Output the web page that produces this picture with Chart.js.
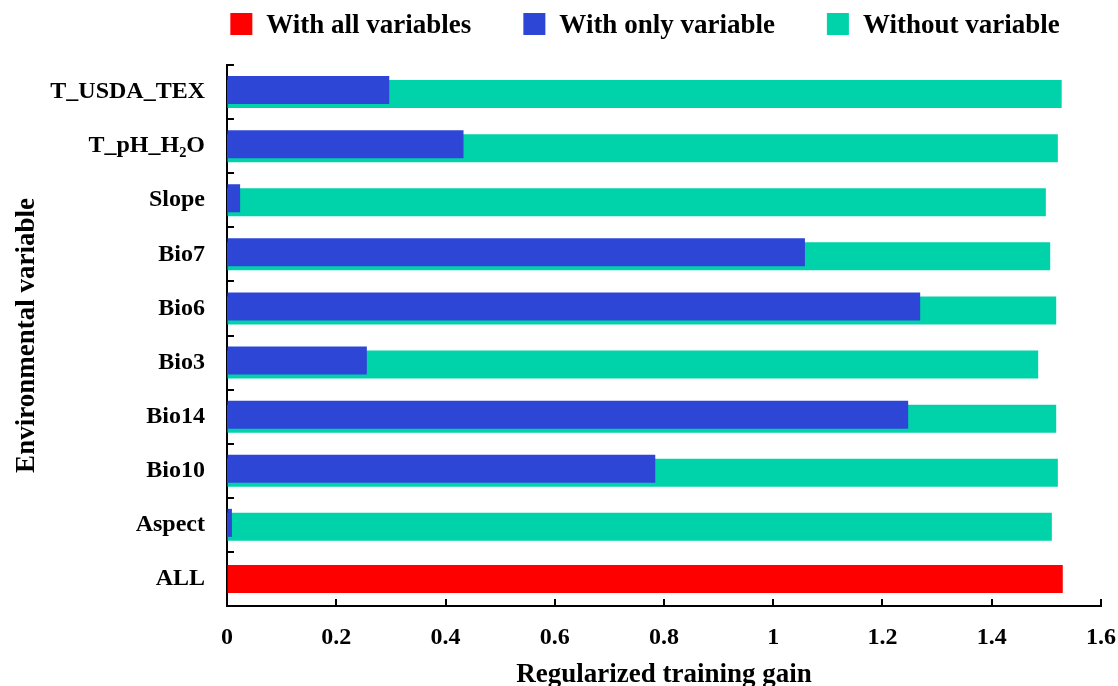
<!DOCTYPE html>
<html>
<head>
<meta charset="utf-8">
<script src="https://cdn.jsdelivr.net/npm/chart.js@4"></script>
<style>
  html, body { margin: 0; padding: 0; background: #fff; }
  canvas { display: block; }
</style>
</head>
<body>
<canvas id="c" width="1118" height="686"></canvas>
<script>
const categories = ['T_USDA_TEX', 'T_pH_H\u2082O', 'Slope', 'Bio7', 'Bio6', 'Bio3', 'Bio14', 'Bio10', 'Aspect', 'ALL'];
const withAllVariables = [null, null, null, null, null, null, null, null, null, 1.530];
const withOnlyVariable = [0.297, 0.433, 0.024, 1.058, 1.269, 0.256, 1.247, 0.784, 0.009, null];
const withoutVariable = [1.528, 1.521, 1.499, 1.507, 1.518, 1.485, 1.518, 1.521, 1.510, null];
const xTickValues = [0, 0.2, 0.4, 0.6, 0.8, 1.0, 1.2, 1.4, 1.6];
const xTickLabels = ['0', '0.2', '0.4', '0.6', '0.8', '1', '1.2', '1.4', '1.6'];

const FONT = "'Liberation Serif', 'Times New Roman', serif";
const RED = '#FF0000', BLUE = '#2E46D6', GREEN = '#00D3AA';

const legendPlugin = {
  id: 'customLegend',
  afterDraw(chart) {
    const ctx = chart.ctx;
    const ca = chart.chartArea;
    ctx.save();
    ctx.font = 'bold 27px ' + FONT;
    const box = 22, gapText = 14, gapItem = 52;
    const items = chart.data.datasets.map(d => ({ text: d.label, color: d.backgroundColor, w: ctx.measureText(d.label).width }));
    let total = 0;
    items.forEach((it, i) => { total += box + gapText + it.w + (i ? gapItem : 0); });
    let x = (ca.left + ca.right) / 2 - 19 - total / 2;
    items.forEach(it => {
      ctx.fillStyle = it.color;
      ctx.fillRect(x, 13, box, 22);
      ctx.fillStyle = '#000';
      ctx.textBaseline = 'alphabetic';
      ctx.textAlign = 'left';
      ctx.fillText(it.text, x + box + gapText, 33);
      x += box + gapText + it.w + gapItem;
    });
    ctx.restore();
  }
};

const ticksPlugin = {
  id: 'inwardTicks',
  afterDraw(chart) {
    const ctx = chart.ctx;
    const xs = chart.scales.x, ys = chart.scales.y;
    const ca = chart.chartArea;
    ctx.save();
    ctx.strokeStyle = '#000';
    ctx.lineWidth = 2;
    ctx.beginPath();
    xs.ticks.forEach((t, i) => {
      if (i === 0) return;
      const px = Math.round(xs.getPixelForTick(i));
      ctx.moveTo(px, ca.bottom);
      ctx.lineTo(px, ca.bottom - 7);
    });
    const half = (ys.getPixelForValue(1) - ys.getPixelForValue(0)) / 2;
    for (let i = 0; i < categories.length; i++) {
      const py = Math.round(ys.getPixelForValue(i) - half);
      ctx.moveTo(ca.left, py);
      ctx.lineTo(ca.left + 7, py);
    }
    ctx.stroke();
    ctx.restore();
  }
};

new Chart(document.getElementById('c'), {
  type: 'bar',
  data: {
    labels: categories,
    datasets: [
      { label: 'With all variables', data: withAllVariables, backgroundColor: RED, maxBarThickness: 28 },
      { label: 'With only variable', data: withOnlyVariable, backgroundColor: BLUE },
      { label: 'Without variable', data: withoutVariable, backgroundColor: GREEN }
    ]
  },
  options: {
    indexAxis: 'y',
    responsive: false,
    animation: false,
    devicePixelRatio: 1,
    datasets: { bar: { skipNull: true, categoryPercentage: 0.148, barPercentage: 7.0 } },
    layout: { padding: { top: 65, left: 0, right: 0, bottom: 0 } },
    plugins: { legend: { display: false }, tooltip: { enabled: false } },
    scales: {
      x: {
        type: 'linear',
        min: 0, max: 1.6,
        afterBuildTicks(scale) { scale.ticks = xTickValues.map(v => ({ value: v })); },
        afterFit(scale) { scale.height = 80; scale.paddingRight = 17; scale.paddingLeft = 0; },
        grid: { display: true, drawOnChartArea: false, drawTicks: false },
        border: { display: true, color: '#000', width: 2 },
        ticks: {
          padding: 17,
          color: '#000',
          font: { family: FONT, size: 24, weight: 'bold' },
          callback: (v, i) => xTickLabels[i]
        },
        title: {
          display: true,
          text: 'Regularized training gain',
          color: '#000',
          font: { family: FONT, size: 27, weight: 'bold', lineHeight: 0.8 },
          padding: { top: 0, bottom: 0 }
        }
      },
      y: {
        type: 'category',
        offset: true,
        afterFit(scale) { scale.width = 227; },
        grid: { display: true, drawOnChartArea: false, drawTicks: false, offset: true },
        border: { display: true, color: '#000', width: 2 },
        ticks: {
          padding: 22,
          color: '#000',
          font: { family: FONT, size: 24, weight: 'bold' }
        },
        title: {
          display: true,
          text: 'Environmental variable',
          color: '#000',
          font: { family: FONT, size: 27, weight: 'bold' },
          padding: { top: 11, bottom: 0 }
        }
      }
    }
  },
  plugins: [legendPlugin, ticksPlugin]
});
</script>
</body>
</html>
